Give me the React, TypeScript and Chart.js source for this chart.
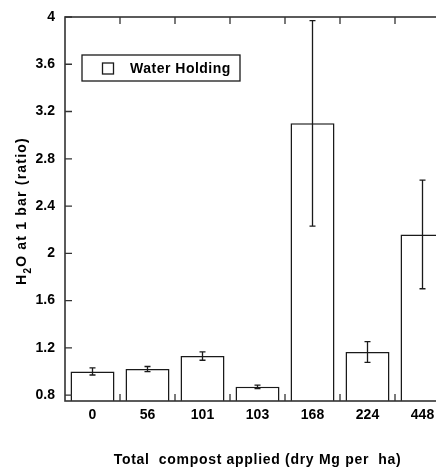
import React, { useEffect, useRef } from "react";
import { Chart, registerables } from "chart.js";

Chart.register(...registerables);

const categories = ["0", "56", "101", "103", "168", "224", "448"];
const values = [1.0, 1.02, 1.13, 0.87, 3.1, 1.165, 2.16];
const errors = [0.03, 0.022, 0.035, 0.015, 0.87, 0.088, 0.46];
const yTicks = [0.8, 1.2, 1.6, 2, 2.4, 2.8, 3.2, 3.6, 4];
const yTickLabels = ["0.8", "1.2", "1.6", "2", "2.4", "2.8", "3.2", "3.6", "4"];
const seriesLabel = "Water Holding";
const xTitle = "Total  compost applied (dry Mg per  ha)";
const yTitleHead = "H";
const yTitleSub = "2";
const yTitleTail = "O at 1 bar (ratio)";

const FONT = '"Liberation Sans", Arial, Helvetica, sans-serif';
const INK = "#1a1a1a";
const AXIS = "#333";

const decorPlugin = {
  id: "decor",
  afterDraw(chart: any) {
    const ctx = chart.ctx as CanvasRenderingContext2D;
    const { left, right, top, bottom } = chart.chartArea;
    const x = chart.scales.x;
    const y = chart.scales.y;
    ctx.save();

    // error bars
    ctx.strokeStyle = INK;
    ctx.lineWidth = 1.3;
    values.forEach((v, i) => {
      const px = x.getPixelForValue(i);
      const yHi = y.getPixelForValue(v + errors[i]);
      const yLo = y.getPixelForValue(v - errors[i]);
      ctx.beginPath();
      ctx.moveTo(px, yHi);
      ctx.lineTo(px, yLo);
      ctx.moveTo(px - 3, yHi);
      ctx.lineTo(px + 3, yHi);
      ctx.moveTo(px - 3, yLo);
      ctx.lineTo(px + 3, yLo);
      ctx.stroke();
    });

    // frame
    ctx.strokeStyle = AXIS;
    ctx.lineWidth = 1.6;
    ctx.strokeRect(left, top, right - left, bottom - top);

    // y ticks (left and right, inward)
    ctx.lineWidth = 1.3;
    ctx.beginPath();
    yTicks.forEach((t) => {
      const py = y.getPixelForValue(t);
      ctx.moveTo(left, py);
      ctx.lineTo(left + 7, py);
      ctx.moveTo(right, py);
      ctx.lineTo(right - 7, py);
    });
    // x ticks at category boundaries (bottom and top, inward)
    for (let i = 0; i < categories.length - 1; i++) {
      const px = (x.getPixelForValue(i) + x.getPixelForValue(i + 1)) / 2;
      ctx.moveTo(px, bottom);
      ctx.lineTo(px, bottom - 7);
      ctx.moveTo(px, top);
      ctx.lineTo(px, top + 7);
    }
    ctx.stroke();

    // legend
    ctx.strokeStyle = INK;
    ctx.lineWidth = 1.3;
    ctx.strokeRect(74, 47, 158, 26);
    ctx.strokeRect(94.5, 55, 11, 11);
    ctx.fillStyle = "#000";
    ctx.font = `bold 14px ${FONT}`;
    (ctx as any).letterSpacing = "0.5px";
    ctx.textAlign = "left";
    ctx.textBaseline = "middle";
    ctx.fillText(seriesLabel, 122, 61);

    // x title
    (ctx as any).letterSpacing = "0.7px";
    ctx.textAlign = "center";
    ctx.fillText(xTitle, (left + right) / 2, 452);

    // y title with subscript
    ctx.save();
    ctx.translate(13, 203);
    ctx.rotate(-Math.PI / 2);
    (ctx as any).letterSpacing = "1.2px";
    ctx.font = `bold 14px ${FONT}`;
    const wHead = ctx.measureText(yTitleHead).width;
    const wTail = ctx.measureText(yTitleTail).width;
    ctx.font = `bold 10px ${FONT}`;
    const wSub = ctx.measureText(yTitleSub).width;
    const total = wHead + wSub + wTail;
    let cx = -total / 2;
    ctx.textAlign = "left";
    ctx.textBaseline = "alphabetic";
    ctx.font = `bold 14px ${FONT}`;
    ctx.fillText(yTitleHead, cx, 5);
    cx += wHead;
    ctx.font = `bold 10px ${FONT}`;
    ctx.fillText(yTitleSub, cx, 10);
    cx += wSub;
    ctx.font = `bold 14px ${FONT}`;
    ctx.fillText(yTitleTail, cx, 5);
    ctx.restore();

    ctx.restore();
  },
};

export default function App() {
  const ref = useRef<HTMLCanvasElement>(null);
  useEffect(() => {
    document.documentElement.style.overflow = "hidden";
    document.body.style.overflow = "hidden";
    const chart = new Chart(ref.current as HTMLCanvasElement, {
      type: "bar",
      data: {
        labels: categories,
        datasets: [
          {
            label: seriesLabel,
            data: values,
            backgroundColor: "#ffffff",
            borderColor: INK,
            borderWidth: 1.5,
            barPercentage: 0.8,
            categoryPercentage: 1,
          },
        ],
      },
      options: {
        responsive: false,
        animation: false,
        layout: { padding: { top: 9, right: 18, left: 0, bottom: 0 } },
        plugins: {
          legend: { display: false },
          tooltip: { enabled: false },
        },
        scales: {
          x: {
            offset: true,
            grid: { display: false, drawTicks: false },
            border: { display: false },
            ticks: {
              color: "#000",
              font: { family: FONT, size: 14, weight: "bold" },
              padding: 6,
              maxRotation: 0,
            },
            afterFit: (s: any) => {
              s.height = 67;
              s.paddingLeft = 0;
              s.paddingRight = 0;
            },
          },
          y: {
            min: 0.75,
            max: 4,
            grid: { display: false, drawTicks: false },
            border: { display: false },
            ticks: {
              color: "#000",
              font: { family: FONT, size: 14, weight: "bold" },
              padding: 10,
              callback: (v: any) => {
                const i = yTicks.indexOf(Number(v));
                return i >= 0 ? yTickLabels[i] : "";
              },
            },
            afterBuildTicks: (s: any) => {
              s.ticks = yTicks.map((v) => ({ value: v }));
            },
            afterFit: (s: any) => {
              s.width = 57;
              s.paddingTop = 0;
              s.paddingBottom = 0;
            },
          },
        },
      },
      plugins: [decorPlugin],
    } as any);
    return () => chart.destroy();
  }, []);
  return (
    <div style={{ width: 436, height: 460, overflow: "hidden" }}>
      <canvas ref={ref} width={460} height={460} style={{ display: "block" }} />
    </div>
  );
}
